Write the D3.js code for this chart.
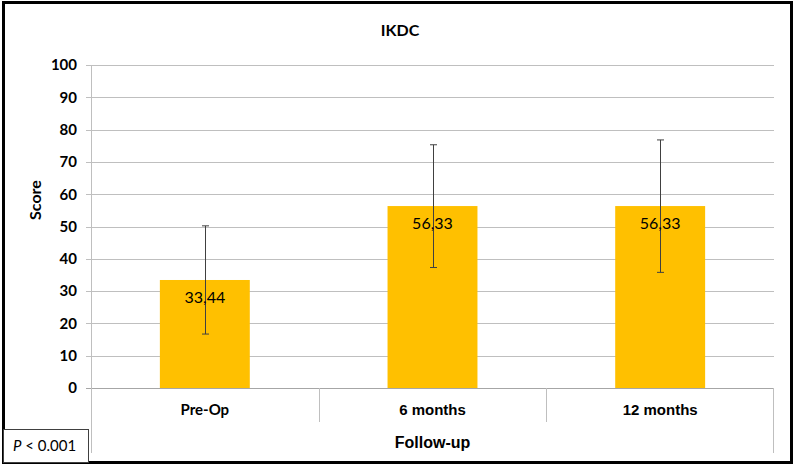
<!DOCTYPE html>
<html>
<head>
<meta charset="utf-8">
<script src="https://cdn.jsdelivr.net/npm/d3@7"></script>
<style>
  body { margin: 0; background: #fff; }
  svg { display: block; }
</style>
</head>
<body>
<svg id="chart" width="796" height="466"></svg>
<script>
// values
var categories = ["Pre-Op", "6 months", "12 months"];
var means = [33.44, 56.33, 56.33];
var errLow = [16.7, 37.3, 35.8];
var errHigh = [50.2, 75.3, 76.8];
var yTicks = [0, 10, 20, 30, 40, 50, 60, 70, 80, 90, 100];

var svg = d3.select("#chart");
var margin = { top: 65, left: 91, right: 22, bottom: 78 };
var width = 796 - margin.left - margin.right;
var height = 466 - margin.top - margin.bottom;

var x = d3.scaleBand()
  .domain(categories)
  .range([0, width])
  .paddingInner(0)
  .paddingOuter(0);

var y = d3.scaleLinear()
  .domain([0, 100])
  .range([height, 0]);

var barW = x.bandwidth() * 0.395;

// outer frame
svg.append("rect")
  .attr("x", 3.5).attr("y", 2.5)
  .attr("width", 788).attr("height", 460)
  .attr("fill", "none")
  .attr("stroke", "#000")
  .attr("stroke-width", 3);

var g = svg.append("g")
  .attr("transform", "translate(" + margin.left + "," + margin.top + ")");

// gridlines
g.append("g")
  .selectAll("line")
  .data(yTicks)
  .enter().append("line")
  .attr("x1", -5)
  .attr("x2", width)
  .attr("y1", function (d) { return Math.round(y(d)) + 0.5; })
  .attr("y2", function (d) { return Math.round(y(d)) + 0.5; })
  .attr("stroke", function (d) { return d === 0 ? "#a6a6a6" : "#bfbfbf"; })
  .attr("stroke-width", 1);

// y axis labels
var yAxis = g.append("g")
  .call(d3.axisLeft(y).tickValues(yTicks).tickSize(0).tickPadding(14));
yAxis.select(".domain").remove();
yAxis.selectAll("text")
  .attr("font-family", "Lato, 'Open Sans', sans-serif")
  .attr("font-weight", "bold")
  .attr("font-size", 15)
  .attr("fill", "#000");

// y axis line, extended down through the category levels
g.append("line")
  .attr("x1", 0.5).attr("x2", 0.5)
  .attr("y1", 0).attr("y2", height + 65)
  .attr("stroke", "#bfbfbf");

// category separators
var seps = categories.slice(1).map(function (c) { return x(c); });
g.append("g").selectAll("line")
  .data(seps)
  .enter().append("line")
  .attr("x1", function (d) { return Math.round(d) + 0.5; })
  .attr("x2", function (d) { return Math.round(d) + 0.5; })
  .attr("y1", height)
  .attr("y2", height + 34)
  .attr("stroke", "#bfbfbf");

// right edge of the group level
g.append("line")
  .attr("x1", width - 0.5).attr("x2", width - 0.5)
  .attr("y1", height).attr("y2", height + 65)
  .attr("stroke", "#bfbfbf");

// bars
g.selectAll(".bar")
  .data(categories)
  .enter().append("rect")
  .attr("class", "bar")
  .attr("x", function (d) { return x(d) + (x.bandwidth() - barW) / 2; })
  .attr("y", function (d, i) { return y(means[i]); })
  .attr("width", barW)
  .attr("height", function (d, i) { return height - y(means[i]); })
  .attr("fill", "#ffc000");

// error bars
var eb = g.selectAll(".err")
  .data(categories)
  .enter().append("g")
  .attr("class", "err")
  .attr("stroke", "#404040")
  .attr("stroke-width", 1);

var cx = function (d) { return Math.round(x(d) + x.bandwidth() / 2) + 0.5; };
eb.append("line")
  .attr("x1", cx).attr("x2", cx)
  .attr("y1", function (d, i) { return y(errHigh[i]); })
  .attr("y2", function (d, i) { return y(errLow[i]); });
eb.append("line")
  .attr("x1", function (d) { return cx(d) - 3.5; })
  .attr("x2", function (d) { return cx(d) + 3.5; })
  .attr("y1", function (d, i) { return y(errHigh[i]); })
  .attr("y2", function (d, i) { return y(errHigh[i]); });
eb.append("line")
  .attr("x1", function (d) { return cx(d) - 3.5; })
  .attr("x2", function (d) { return cx(d) + 3.5; })
  .attr("y1", function (d, i) { return y(errLow[i]); })
  .attr("y2", function (d, i) { return y(errLow[i]); });

// data labels
g.selectAll(".lbl")
  .data(categories)
  .enter().append("text")
  .attr("class", "lbl")
  .attr("x", function (d) { return x(d) + x.bandwidth() / 2; })
  .attr("y", function (d, i) { return y(means[i]) + 23; })
  .attr("text-anchor", "middle")
  .attr("font-family", "Lato, 'Open Sans', sans-serif")
  .attr("font-size", 16)
  .attr("fill", "#000")
  .text(function (d, i) { return d3.format(".2f")(means[i]).replace(".", ","); });

// category labels
g.selectAll(".cat")
  .data(categories)
  .enter().append("text")
  .attr("class", "cat")
  .attr("x", function (d) { return x(d) + x.bandwidth() / 2; })
  .attr("y", height + 27)
  .attr("text-anchor", "middle")
  .attr("font-family", function (d, i) { return i === 0 ? "Lato, sans-serif" : "'Liberation Sans', Arial, sans-serif"; })
  .attr("font-weight", "bold")
  .attr("font-size", 15)
  .attr("fill", "#000")
  .text(function (d) { return d; });

// group label
g.append("text")
  .attr("x", width / 2)
  .attr("y", height + 60)
  .attr("text-anchor", "middle")
  .attr("font-family", "'Liberation Sans', Arial, sans-serif")
  .attr("font-weight", "bold")
  .attr("font-size", 16)
  .attr("fill", "#000")
  .text("Follow-up");

// y title
svg.append("text")
  .attr("transform", "translate(41,200) rotate(-90)")
  .attr("text-anchor", "middle")
  .attr("font-family", "Lato, 'Open Sans', sans-serif")
  .attr("font-weight", "bold")
  .attr("font-size", 16)
  .attr("fill", "#000")
  .text("Score");

// chart title
svg.append("text")
  .attr("x", 400)
  .attr("y", 36)
  .attr("text-anchor", "middle")
  .attr("font-family", "Lato, 'Open Sans', sans-serif")
  .attr("font-weight", "bold")
  .attr("font-size", 16)
  .attr("fill", "#000")
  .text("IKDC");

// p-value box
svg.append("rect")
  .attr("x", 3.5).attr("y", 429.5)
  .attr("width", 85).attr("height", 33)
  .attr("fill", "#fff")
  .attr("stroke", "#404040")
  .attr("stroke-width", 1);

var pt = svg.append("text")
  .attr("x", 13)
  .attr("y", 451)
  .attr("font-family", "Lato, 'Open Sans', sans-serif")
  .attr("font-size", 15)
  .attr("fill", "#000");
pt.append("tspan").attr("font-style", "italic").text("P");
pt.append("tspan").text(" < 0.001");
</script>
</body>
</html>
